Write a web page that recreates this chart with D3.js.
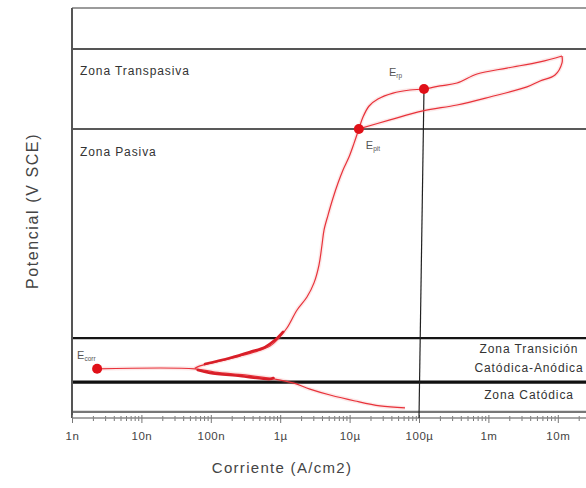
<!DOCTYPE html>
<html>
<head>
<meta charset="utf-8">
<script src="https://cdn.jsdelivr.net/npm/d3@7"></script>
<style>
  html, body { margin: 0; padding: 0; background: #fff; }
  svg { display: block; font-family: "Liberation Sans", Arial, sans-serif; }
</style>
</head>
<body>
<svg id="chart" width="586" height="488"></svg>
<script>
// Potentiodynamic polarization curve: current density (A/cm2, log) vs potential (V SCE)

// Cathodic branch, from the most negative potential up to Ecorr
const cathodicI = [6.28e-5, 2.74e-5, 1.20e-5, 5.23e-6, 2.68e-6, 1.53e-6, 8.4e-7, 3.11e-7, 1.15e-7, 5.9e-8, 2.3e-9];
const cathodicE = [-0.551, -0.541, -0.517, -0.488, -0.459, -0.429, -0.410, -0.390, -0.376, -0.360, -0.360];

// Anodic forward scan, from just above Ecorr to the vertex
const anodicI = [5.9e-8, 6.98e-8, 1.36e-7, 2.64e-7, 4.79e-7, 7.13e-7, 9.3e-7, 1.25e-6, 1.75e-6, 2.43e-6,
  3.07e-6, 3.62e-6, 4.0e-6, 4.28e-6, 4.89e-6, 5.77e-6, 6.81e-6, 8.04e-6, 9.8e-6, 1.16e-5, 1.36e-5,
  1.56e-5, 1.91e-5, 2.56e-5, 4.22e-5, 7.41e-5, 1.18e-4, 2.01e-4, 3.53e-4, 6.86e-4, 1.85e-3, 5.55e-3, 1.15e-2];
const anodicE = [-0.358, -0.346, -0.322, -0.298, -0.273, -0.249, -0.215, -0.161, -0.073, -0.010,
  0.059, 0.146, 0.244, 0.317, 0.390, 0.473, 0.546, 0.610, 0.673, 0.741, 0.810,
  0.868, 0.922, 0.956, 0.985, 1.000, 1.005, 1.020, 1.034, 1.078, 1.107, 1.137, 1.166];

// Reverse scan, from the vertex back down to the passive/transpassive limit
const reverseI = [1.15e-2, 1.15e-2, 9.12e-3, 5.55e-3, 3.6e-3, 1.05e-3, 3.53e-4, 1.14e-4, 3.82e-5, 1.36e-5];
const reverseE = [1.166, 1.132, 1.073, 1.044, 1.015, 0.966, 0.927, 0.898, 0.854, 0.810];

// Noisy strands recorded near Ecorr
const noiseUpperI = [8.24e-8, 1.89e-7, 3.67e-7, 6.04e-7, 8.41e-7, 1.10e-6];
const noiseUpperE = [-0.337, -0.307, -0.278, -0.254, -0.220, -0.180];
const noiseLowerI = [6.5e-8, 9.7e-8, 2.64e-7, 7.13e-7, 8.0e-7];
const noiseLowerE = [-0.366, -0.380, -0.395, -0.410, -0.405];

// Characteristic points
const pointNames = ["corr", "rp", "pit"];
const pointI = [2.3e-9, 1.18e-4, 1.36e-5];
const pointE = [-0.360, 1.005, 0.810];

// Zone limits (V SCE)
const zoneLimits = [1.4, 1.2, 0.81, -0.21, -0.425, -0.57];
const zoneWidths = [1.6, 2.2, 1.5, 2.2, 3.2, 2.2];
const zoneColors = ["#7a7a7a", "#555", "#222", "#151515", "#111", "#777"];

// Zone names
const zoneNames = ["Zona Transpasiva", "Zona Pasiva", "Zona Transición", "Catódica-Anódica", "Zona Catódica"];
const zoneNameE = [1.075, 0.68, -0.285, -0.378, -0.508];

// Axis ticks
const tickValues = [1e-9, 1e-8, 1e-7, 1e-6, 1e-5, 1e-4, 1e-3, 1e-2];
const tickLabels = ["1n", "10n", "100n", "1µ", "10µ", "100µ", "1m", "10m"];

const svg = d3.select("#chart");
const W = 586, H = 488;
const mLeft = 72, mTop = 8, mBottom = 418;

const x = d3.scaleLog().domain([1e-9, 1e-1]).range([mLeft, mLeft + 8 * 69.4]);
const y = d3.scaleLinear().domain([-0.6, 1.4]).range([mBottom, mTop]);

const toPts = (I, E) => I.map((v, i) => [v, E[i]]);
const line = d3.line().x(d => x(d[0])).y(d => y(d[1]));
const smooth = d3.line().x(d => x(d[0])).y(d => y(d[1])).curve(d3.curveCatmullRom.alpha(0.5));

// Zone limit lines
svg.append("g").selectAll("line").data(zoneLimits).join("line")
  .attr("x1", mLeft).attr("x2", W)
  .attr("y1", d => y(d)).attr("y2", d => y(d))
  .attr("stroke", (d, i) => zoneColors[i])
  .attr("stroke-width", (d, i) => zoneWidths[i]);

// Left frame line
svg.append("line")
  .attr("x1", mLeft).attr("x2", mLeft)
  .attr("y1", y(1.4)).attr("y2", y(-0.6))
  .attr("stroke", "#555").attr("stroke-width", 2);

// X axis with major and minor ticks
const minor = [];
for (let d = -9; d < -1; d++) for (let m = 2; m <= 9; m++) minor.push(m * Math.pow(10, d));

const axisMinor = svg.append("g").attr("transform", `translate(0,${mBottom})`)
  .call(d3.axisBottom(x).tickValues(minor).tickSize(3).tickFormat(""));
axisMinor.select(".domain").remove();
axisMinor.selectAll("line").attr("stroke", "#777").attr("y1", -2);

const axisMajor = svg.append("g").attr("transform", `translate(0,${mBottom})`)
  .call(d3.axisBottom(x).tickValues(tickValues).tickSize(5).tickPadding(9)
    .tickFormat((d, i) => tickLabels[i]));
axisMajor.select(".domain").attr("stroke", "#888").attr("stroke-width", 1.5)
  .attr("d", `M${mLeft},0H${W}`);
axisMajor.selectAll("line").attr("stroke", "#777").attr("y1", -3);
axisMajor.selectAll("text").attr("fill", "#444").style("font-size", "11.5px")
  .style("letter-spacing", "0.5px")
  .style("font-family", "'Liberation Sans', Arial, sans-serif");

// Vertical guide from the repassivation point to the axis
svg.append("path")
  .datum([[pointI[1], pointE[1]], [1e-4, -0.6]])
  .attr("d", line).attr("fill", "none").attr("stroke", "#222").attr("stroke-width", 1.2);

// Curve: soft halo then the trace
const curves = [toPts(cathodicI, cathodicE), toPts(anodicI, anodicE), toPts(reverseI, reverseE)];
const gc = svg.append("g").attr("fill", "none");
gc.selectAll("path.halo").data(curves).join("path").attr("class", "halo")
  .attr("d", smooth).attr("stroke", "#f08080").attr("stroke-opacity", 0.18).attr("stroke-width", 4)
  .attr("stroke-linejoin", "round");
gc.selectAll("path.trace").data(curves).join("path").attr("class", "trace")
  .attr("d", smooth).attr("stroke", "#e8323a").attr("stroke-width", 1.2)
  .attr("stroke-linejoin", "round");

// Noise strands near Ecorr
const noise = [toPts(noiseUpperI, noiseUpperE), toPts(noiseLowerI, noiseLowerE)];
gc.selectAll("path.noise").data(noise).join("path").attr("class", "noise")
  .attr("d", smooth).attr("stroke", "#d81e28").attr("stroke-width", 2.6)
  .attr("stroke-linecap", "round").attr("stroke-linejoin", "round");

// Characteristic points
svg.append("g").selectAll("circle").data(pointI).join("circle")
  .attr("cx", d => x(d)).attr("cy", (d, i) => y(pointE[i]))
  .attr("r", 5).attr("fill", "#e01018");

// Point labels E with subscript
const labelDx = [-20, -35, 7];
const labelDy = [-10, -13, 20];
const gl = svg.append("g").attr("fill", "#555");
pointNames.forEach((n, i) => {
  const t = gl.append("text")
    .attr("x", x(pointI[i]) + labelDx[i]).attr("y", y(pointE[i]) + labelDy[i])
    .style("font-size", "11px");
  t.append("tspan").text("E");
  t.append("tspan").attr("dy", 2).style("font-size", "6.5px").text(n);
});

// Zone names
const gz = svg.append("g").attr("fill", "#333").style("font-size", "12px")
  .style("letter-spacing", "0.9px");
zoneNames.forEach((n, i) => {
  const rightSide = i >= 2;
  gz.append("text")
    .attr("x", rightSide ? 529 : 80)
    .attr("y", y(zoneNameE[i]))
    .attr("text-anchor", rightSide ? "middle" : "start")
    .text(n);
});

// Axis titles
svg.append("text").attr("x", 282).attr("y", 473).attr("text-anchor", "middle")
  .attr("fill", "#444").style("font-size", "15px").style("letter-spacing", "1.3px")
  .text("Corriente (A/cm2)");
svg.append("text").attr("transform", "translate(38,211) rotate(-90)")
  .attr("text-anchor", "middle").attr("fill", "#444").style("font-size", "16px")
  .style("letter-spacing", "1.6px")
  .text("Potencial (V SCE)");
</script>
</body>
</html>
